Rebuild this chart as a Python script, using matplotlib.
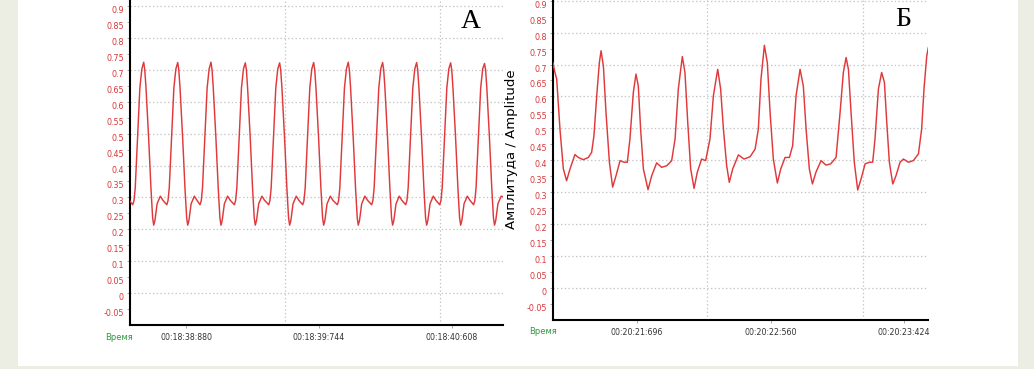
import matplotlib
matplotlib.use("Agg")
import matplotlib.pyplot as plt
from matplotlib.patches import Rectangle
from matplotlib.transforms import ScaledTranslation

# Панель А: время (с после 00:18:00) и амплитуда
t_a = [38.516, 38.534, 38.542, 38.550, 38.565, 38.580, 38.593,
       38.605, 38.612, 38.620, 38.637, 38.652, 38.663, 38.670, 38.678, 38.692, 38.713, 38.730,
       38.755, 38.763, 38.771, 38.786, 38.801, 38.814,
       38.826, 38.833, 38.841, 38.858, 38.873, 38.884, 38.891, 38.899, 38.913, 38.934, 38.951,
       38.971, 38.979, 38.987, 39.002, 39.017, 39.030,
       39.042, 39.049, 39.057, 39.074, 39.089, 39.100, 39.107, 39.115, 39.129, 39.150, 39.167,
       39.194, 39.202, 39.210, 39.225, 39.240, 39.253,
       39.265, 39.272, 39.280, 39.297, 39.312, 39.323, 39.330, 39.338, 39.352, 39.373, 39.390,
       39.417, 39.425, 39.433, 39.448, 39.463, 39.476,
       39.488, 39.495, 39.503, 39.520, 39.535, 39.546, 39.553, 39.561, 39.575, 39.596, 39.613,
       39.638, 39.646, 39.654, 39.669, 39.684, 39.697,
       39.709, 39.716, 39.724, 39.741, 39.756, 39.767, 39.774, 39.782, 39.796, 39.817, 39.834,
       39.863, 39.871, 39.879, 39.894, 39.909, 39.922,
       39.934, 39.941, 39.949, 39.966, 39.981, 39.992, 39.999, 40.007, 40.021, 40.042, 40.059,
       40.086, 40.094, 40.102, 40.117, 40.132, 40.145,
       40.157, 40.164, 40.172, 40.189, 40.204, 40.215, 40.222, 40.230, 40.244, 40.265, 40.282,
       40.307, 40.315, 40.323, 40.338, 40.353, 40.366,
       40.378, 40.385, 40.393, 40.410, 40.425, 40.436, 40.443, 40.451, 40.465, 40.486, 40.503,
       40.528, 40.536, 40.544, 40.559, 40.574, 40.587,
       40.599, 40.606, 40.614, 40.631, 40.646, 40.657, 40.664, 40.672, 40.686, 40.707, 40.724,
       40.748, 40.756, 40.764, 40.779, 40.794, 40.807,
       40.819, 40.826, 40.834, 40.851, 40.866, 40.877, 40.884, 40.892, 40.906, 40.927, 40.940]
amp_a = [0.288, 0.277, 0.290, 0.330, 0.487, 0.643, 0.703,
         0.724, 0.700, 0.643, 0.487, 0.330, 0.236, 0.213, 0.228, 0.280, 0.304, 0.291,
         0.277, 0.290, 0.330, 0.487, 0.643, 0.703,
         0.723, 0.700, 0.643, 0.487, 0.330, 0.236, 0.213, 0.228, 0.280, 0.304, 0.291,
         0.277, 0.290, 0.330, 0.487, 0.643, 0.703,
         0.724, 0.700, 0.643, 0.487, 0.330, 0.236, 0.213, 0.228, 0.280, 0.304, 0.291,
         0.277, 0.290, 0.330, 0.487, 0.643, 0.703,
         0.722, 0.700, 0.643, 0.487, 0.330, 0.236, 0.213, 0.228, 0.280, 0.304, 0.291,
         0.277, 0.290, 0.330, 0.487, 0.643, 0.703,
         0.722, 0.700, 0.643, 0.487, 0.330, 0.236, 0.213, 0.228, 0.280, 0.304, 0.291,
         0.277, 0.290, 0.330, 0.487, 0.643, 0.703,
         0.723, 0.700, 0.643, 0.487, 0.330, 0.236, 0.213, 0.228, 0.280, 0.304, 0.291,
         0.277, 0.290, 0.330, 0.487, 0.643, 0.703,
         0.724, 0.700, 0.643, 0.487, 0.330, 0.236, 0.213, 0.228, 0.280, 0.304, 0.291,
         0.277, 0.290, 0.330, 0.487, 0.643, 0.703,
         0.723, 0.700, 0.643, 0.487, 0.330, 0.236, 0.213, 0.228, 0.280, 0.304, 0.291,
         0.277, 0.290, 0.330, 0.487, 0.643, 0.703,
         0.723, 0.700, 0.643, 0.487, 0.330, 0.236, 0.213, 0.228, 0.280, 0.304, 0.291,
         0.277, 0.290, 0.330, 0.487, 0.643, 0.703,
         0.722, 0.700, 0.643, 0.487, 0.330, 0.236, 0.213, 0.228, 0.280, 0.304, 0.291,
         0.277, 0.290, 0.330, 0.487, 0.643, 0.703,
         0.720, 0.700, 0.643, 0.487, 0.330, 0.236, 0.213, 0.228, 0.280, 0.304, 0.302]

# Панель Б: время (с после 00:20:00) и амплитуда
t_b = [21.152, 21.162, 21.176, 21.197, 21.219, 21.240, 21.262, 21.294, 21.316, 21.348,
       21.381, 21.402, 21.417, 21.435, 21.452, 21.463, 21.478, 21.495, 21.517, 21.538,
       21.560, 21.586, 21.612, 21.633, 21.650, 21.672, 21.689, 21.704, 21.719, 21.737,
       21.767, 21.791, 21.823, 21.855, 21.888, 21.920, 21.942, 21.963, 21.989, 22.006,
       22.024, 22.043, 22.065, 22.086, 22.114, 22.140, 22.168, 22.190, 22.218, 22.237,
       22.255, 22.276, 22.293, 22.315, 22.352, 22.388, 22.427, 22.460, 22.481, 22.498,
       22.520, 22.539, 22.557, 22.578, 22.604, 22.626, 22.654, 22.682, 22.703, 22.725,
       22.751, 22.772, 22.790, 22.811, 22.831, 22.854, 22.887, 22.919, 22.949, 22.984,
       23.010, 23.031, 23.049, 23.064, 23.081, 23.102, 23.124, 23.146, 23.172, 23.200,
       23.221, 23.236, 23.258, 23.279, 23.297, 23.312, 23.329, 23.351, 23.372, 23.398,
       23.420, 23.452, 23.484, 23.517, 23.538, 23.553, 23.571, 23.581]
amp_b = [0.705, 0.680, 0.654, 0.498, 0.373, 0.336, 0.373, 0.418, 0.409, 0.402,
         0.409, 0.425, 0.477, 0.602, 0.706, 0.743, 0.696, 0.550, 0.394, 0.316,
         0.352, 0.399, 0.394, 0.394, 0.467, 0.613, 0.670, 0.633, 0.498, 0.373,
         0.308, 0.352, 0.392, 0.378, 0.383, 0.399, 0.467, 0.623, 0.725, 0.675,
         0.519, 0.373, 0.312, 0.363, 0.404, 0.399, 0.467, 0.602, 0.685, 0.623,
         0.498, 0.383, 0.331, 0.373, 0.417, 0.404, 0.411, 0.435, 0.498, 0.654,
         0.760, 0.706, 0.550, 0.404, 0.329, 0.373, 0.409, 0.409, 0.446, 0.602,
         0.685, 0.633, 0.498, 0.373, 0.326, 0.363, 0.399, 0.385, 0.389, 0.409,
         0.550, 0.675, 0.722, 0.685, 0.550, 0.394, 0.307, 0.342, 0.389, 0.394,
         0.394, 0.467, 0.623, 0.675, 0.644, 0.519, 0.394, 0.326, 0.352, 0.394,
         0.404, 0.394, 0.399, 0.420, 0.498, 0.623, 0.727, 0.753]

# подписи оси времени
ticks_a = [38.880, 39.744, 40.608]
labels_a = ["00:18:38:880", "00:18:39:744", "00:18:40:608"]
ticks_b = [21.696, 22.560, 23.424]
labels_b = ["00:20:21:696", "00:20:22:560", "00:20:23:424"]
vgrid_a = [39.522, 40.529]
vgrid_b = [22.149, 23.158]

y_ticks = [round(-0.05 + 0.05 * i, 2) for i in range(20)]
h_grid = [round(0.1 * i, 1) for i in range(10)]

W, H = 1034, 369
fig = plt.figure(figsize=(W / 100, H / 100), dpi=100)
fig.patch.set_facecolor("#ecede3")
fig.patches.append(Rectangle((18 / W, 3 / H), 1000 / W, 1 - 3 / H,
                             transform=fig.transFigure, facecolor="white",
                             edgecolor="none", zorder=-10))

red = "#e0393b"
grid_kw = dict(color="#c4c4c4", lw=0.9, ls=(0, (1.1, 1.9)), zorder=1)


def panel(rect, t, amp, xlim, ylim, ticks, labels, vgrid, letter, letter_xy):
    ax = fig.add_axes(rect)
    ax.set_facecolor("white")
    for y in h_grid:
        ax.axhline(y, **grid_kw)
    for x in vgrid:
        ax.axvline(x, **grid_kw)
    ax.plot(t, amp, color=red, lw=1.05, zorder=3)
    ax.set_xlim(*xlim)
    ax.set_ylim(*ylim)
    for s in ["top", "right"]:
        ax.spines[s].set_visible(False)
    for s in ["left", "bottom"]:
        ax.spines[s].set_linewidth(1.5)
        ax.spines[s].set_color("black")
    ax.set_yticks(y_ticks)
    ax.set_yticklabels([f"{v:g}" for v in y_ticks])
    ax.tick_params(axis="y", length=2.2, width=0.6, color="#999999", pad=2.2,
                   labelsize=5.8, labelcolor="#d8383a")
    ax.set_xticks(ticks)
    ax.set_xticklabels(labels)
    ax.tick_params(axis="x", length=2.2, width=0.6, color="#999999", pad=3.5,
                   labelsize=5.7, labelcolor="#333333")
    off = ScaledTranslation(0, -3.5 / 100, fig.dpi_scale_trans)
    for lab in ax.get_yticklabels():
        lab.set_transform(lab.get_transform() + off)
    fig.text(letter_xy[0] / W, 1 - letter_xy[1] / H, letter, fontsize=20,
             family="Liberation Serif", ha="center", va="center", zorder=5)
    return ax


panel([130 / W, 44 / H, 373 / W, 1 - 44 / H], t_a, amp_a, (38.516, 40.939), (-0.1, 0.919),
      ticks_a, labels_a, vgrid_a, "А", (471, 22))
panel([553 / W, 49 / H, 375 / W, 1 - 49 / H], t_b, amp_b, (21.152, 23.579), (-0.1, 0.902),
      ticks_b, labels_b, vgrid_b, "Б", (903, 19))

fig.text(119 / W, 1 - 337 / H, "Время", color="#2e9a3e", fontsize=6, ha="center", va="center")
fig.text(543 / W, 1 - 332 / H, "Время", color="#2e9a3e", fontsize=6, ha="center", va="center")
fig.text(512 / W, 1 - 149 / H, "Амплитуда / Amplitude", rotation=90, fontsize=9.5,
         ha="center", va="center")

fig.savefig("out.png", dpi=100)
